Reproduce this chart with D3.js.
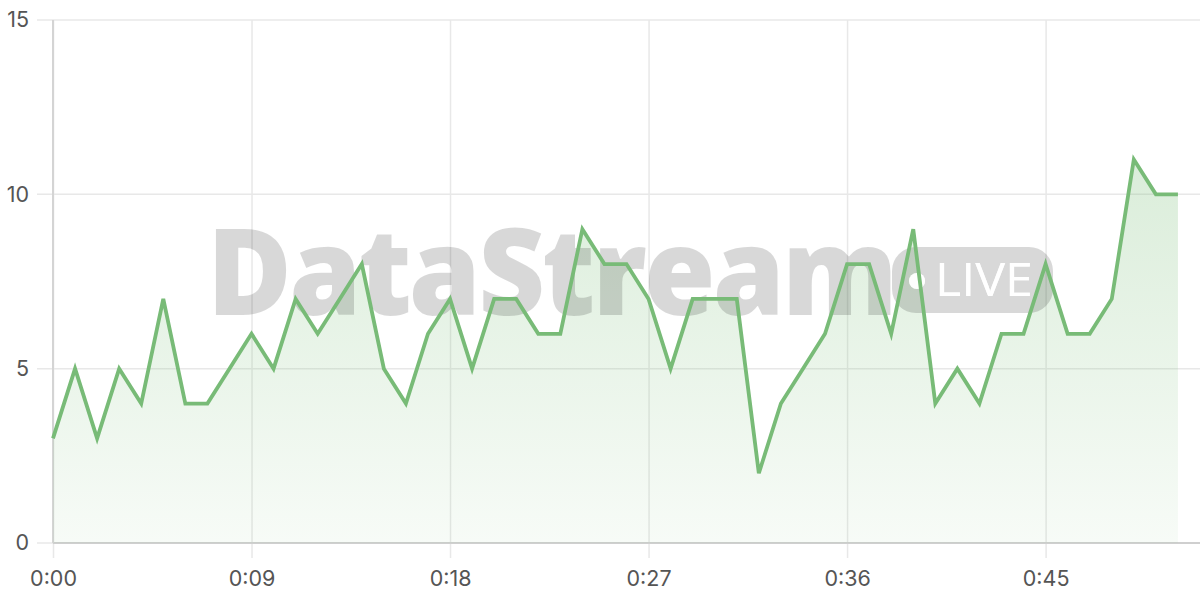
<!DOCTYPE html>
<html>
<head>
<meta charset="utf-8">
<script src="https://cdn.jsdelivr.net/npm/d3@7"></script>
<style>
  html, body { margin: 0; padding: 0; background: #fff; }
  svg { display: block; }
</style>
</head>
<body>
<svg id="chart" width="1200" height="600"></svg>
<script>
// Seconds since start (0..51) and the value at each second
const seconds = d3.range(0, 52);
const values = [3,5,3,5,4,7,4,4,5,6,5,7,6,7,8,5,4,6,7,5,7,7,6,6,9,8,8,7,5,7,7,7,2,4,5,6,8,8,6,9,4,5,4,6,6,8,6,6,7,11,10,10];
const xTicks = [0, 9, 18, 27, 36, 45];
const yTicks = [0, 5, 10, 15];
const watermarkText = "DataStream";
const badgeText = "LIVE";

(function () {
const svg = d3.select("#chart");
const pLeft = 53, pRight = 1200, pTop = 20, pBottom = 543;
const labelFont = "Inter, 'Open Sans', sans-serif";

const x = d3.scaleLinear().domain([0, 52]).range([pLeft, pRight]);
const y = d3.scaleLinear().domain([0, 15]).range([pBottom, pTop]);

const fmt = s => Math.floor(s / 60) + ":" + String(s % 60).padStart(2, "0");

// gradient
const defs = svg.append("defs");
const grad = defs.append("linearGradient").attr("id", "areaGrad")
  .attr("gradientUnits", "userSpaceOnUse")
  .attr("x1", 0).attr("x2", 0)
  .attr("y1", y(11)).attr("y2", pBottom);
grad.append("stop").attr("offset", "0%").attr("stop-color", "#7cbf7a").attr("stop-opacity", 0.28);
grad.append("stop").attr("offset", "100%").attr("stop-color", "#7cbf7a").attr("stop-opacity", 0.06);

// horizontal grid
svg.append("g").selectAll("line").data(yTicks).join("line")
  .attr("x1", pLeft - 16).attr("x2", pRight)
  .attr("y1", d => y(d)).attr("y2", d => y(d))
  .attr("stroke", "#e8e8e8").attr("stroke-width", 1.5);

// y labels
const gy = svg.append("g").attr("transform", `translate(${pLeft - 16},0)`)
  .call(d3.axisLeft(y).tickValues(yTicks).tickSize(0).tickPadding(8));
gy.select(".domain").remove();
gy.selectAll(".tick line").remove();
gy.selectAll(".tick text")
  .attr("fill", "#555")
  .style("font-family", labelFont)
  .style("font-size", "21.5px");

// vertical grid + x ticks
const gx = svg.append("g").attr("transform", `translate(0,${pBottom})`)
  .call(d3.axisBottom(x).tickValues(xTicks).tickFormat(fmt).tickSize(15).tickPadding(13).tickSizeOuter(0));
gx.select(".domain").remove();
gx.selectAll(".tick line").attr("stroke", "#e8e8e8").attr("stroke-width", 1.5)
  .attr("y1", -(pBottom - pTop));
gx.selectAll(".tick text")
  .attr("fill", "#555")
  .style("font-family", labelFont)
  .style("font-size", "21.5px");

// axis lines
svg.append("line").attr("x1", pLeft).attr("x2", pRight).attr("y1", pBottom).attr("y2", pBottom)
  .attr("stroke", "#cfcfcf").attr("stroke-width", 2);
svg.append("line").attr("x1", pLeft).attr("x2", pLeft).attr("y1", pTop).attr("y2", pBottom)
  .attr("stroke", "#d4d4d4").attr("stroke-width", 2);

const data = seconds.map((s, i) => ({ s, v: values[i] }));

// area
svg.append("path").datum(data)
  .attr("fill", "url(#areaGrad)")
  .attr("d", d3.area().x(d => x(d.s)).y0(y(0)).y1(d => y(d.v)));

// watermark
const wm = svg.append("g").attr("opacity", 0.15);
wm.append("text")
  .attr("x", 207).attr("y", 315)
  .attr("textLength", 688).attr("lengthAdjust", "spacingAndGlyphs")
  .style("font-family", "'Open Sans', 'Noto Sans', sans-serif")
  .style("font-weight", 800)
  .style("font-size", "121px")
  .style("letter-spacing", "-3px")
  .attr("fill", "#000")
  .text(watermarkText);
const badgeMask = defs.append("mask").attr("id", "badgeMask");
badgeMask.append("rect").attr("x", 0).attr("y", 0).attr("width", 1200).attr("height", 600).attr("fill", "#fff");
badgeMask.append("circle").attr("cx", 917).attr("cy", 281).attr("r", 8).attr("fill", "#000");
badgeMask.append("text")
  .attr("x", 935).attr("y", 296)
  .attr("textLength", 98).attr("lengthAdjust", "spacingAndGlyphs")
  .style("font-family", "'Open Sans', 'Noto Sans', sans-serif")
  .style("font-size", "45px")
  .attr("fill", "#000")
  .text(badgeText);
wm.append("rect")
  .attr("x", 892).attr("y", 247).attr("width", 161).attr("height", 66).attr("rx", 24)
  .attr("fill", "#000").attr("mask", "url(#badgeMask)");
svg.append("circle").attr("cx", 917).attr("cy", 281).attr("r", 8).attr("fill", "#fff").attr("opacity", 0.9);
svg.append("text")
  .attr("x", 935).attr("y", 296)
  .attr("textLength", 98).attr("lengthAdjust", "spacingAndGlyphs")
  .style("font-family", "'Open Sans', 'Noto Sans', sans-serif")
  .style("font-size", "45px")
  .attr("fill", "#fff").attr("opacity", 0.9)
  .text(badgeText);

// line
svg.append("path").datum(data)
  .attr("fill", "none")
  .attr("stroke", "#78bb77")
  .attr("stroke-width", 3.8)
  .attr("stroke-linejoin", "miter")
  .attr("d", d3.line().x(d => x(d.s)).y(d => y(d.v)));
})();
</script>
</body>
</html>
